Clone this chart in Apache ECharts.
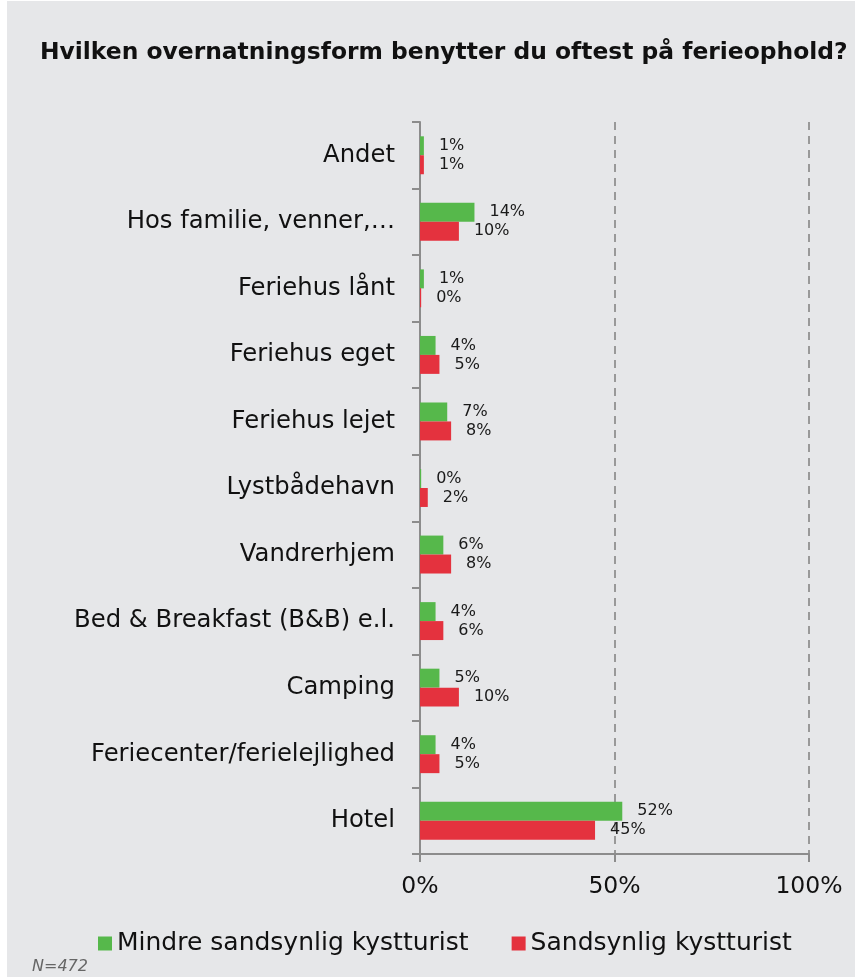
<!DOCTYPE html>
<html><head><meta charset="utf-8">
<script src="https://cdn.jsdelivr.net/npm/echarts@6/dist/echarts.min.js"></script>
<style>html,body{margin:0;padding:0;background:#fff}#c{position:absolute;left:7px;top:1px;width:848px;height:976px;background:#e6e7e9}</style>
</head><body><div id="c"></div>
<script>
const categories = ["Andet","Hos familie, venner,…","Feriehus lånt","Feriehus eget","Feriehus lejet","Lystbådehavn","Vandrerhjem","Bed & Breakfast (B&B) e.l.","Camping","Feriecenter/ferielejlighed","Hotel"];
const mindre = [1,14,1,4,7,0.3,6,4,5,4,52];
const sandsynlig = [1,10,0.3,5,8,2,8,6,10,5,45];
const seriesNames = ["Mindre sandsynlig kystturist","Sandsynlig kystturist"];
const xTicks = [0,50,100];
const FONT = "DejaVu Sans";
const chart = echarts.init(document.getElementById('c'));
const lbl = {show:true, position:'right', distance:15, fontFamily:FONT, fontSize:16, color:'#1a1a1a', formatter:p=>Math.round(p.value)+'%'};
chart.setOption({
  backgroundColor:'#e6e7e9',
  animation:false,
  title:{text:"Hvilken overnatningsform benytter du oftest på ferieophold?", left:28, top:35,
    textStyle:{fontFamily:FONT, fontWeight:'bold', fontSize:23.4, color:'#111'}},
  grid:{left:413, right:46, top:121, bottom:123},
  xAxis:{type:'value', min:xTicks[0], max:xTicks[2], interval:50,
    axisLine:{show:true, lineStyle:{color:'#8c8c8c', width:2}},
    axisTick:{show:true, length:8, lineStyle:{color:'#8c8c8c', width:2}},
    axisLabel:{formatter:'{value}%', fontFamily:FONT, fontSize:23.5, color:'#111', margin:21},
    splitLine:{show:true, lineStyle:{color:'#999', type:[8,6], width:2}}},
  yAxis:{type:'category', data:categories, inverse:true,
    axisLine:{show:true, lineStyle:{color:'#8c8c8c', width:2}},
    axisTick:{show:true, length:8, lineStyle:{color:'#8c8c8c', width:2}},
    axisLabel:{fontFamily:FONT, fontSize:24.3, color:'#111', margin:25}},
  legend:{left:86, top:925, itemWidth:14, itemHeight:14, itemGap:43, icon:'rect',
    textStyle:{fontFamily:FONT, fontSize:25, color:'#111'},
    data:seriesNames},
  graphic:[{type:'text', left:25, top:958, style:{text:'N=472', fontFamily:FONT, fontStyle:'italic', fontSize:16, fill:'#666'}}],
  series:[
    {name:seriesNames[0], type:'bar', data:mindre, barGap:'0%', barCategoryGap:'43%',
     itemStyle:{color:'#56b84b'}, label:lbl},
    {name:seriesNames[1], type:'bar', data:sandsynlig, barGap:'0%', barCategoryGap:'43%',
     itemStyle:{color:'#e4323e'}, label:lbl}
  ]
});
</script></body></html>
